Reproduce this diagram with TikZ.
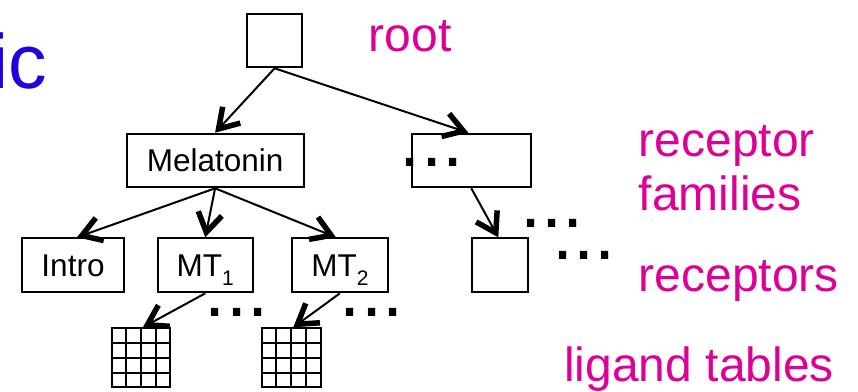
\documentclass[tikz,border=0pt]{standalone}
\usepackage{fontspec}
\setmainfont{Liberation Sans}
\usetikzlibrary{arrows.meta,calc}
\definecolor{titleblue}{RGB}{34,0,221}
\definecolor{labelmag}{RGB}{220,0,150}

\begin{document}
\begin{tikzpicture}[x=1pt,y=-1pt,
  box/.style={draw,line width=2pt,inner sep=0pt,
    font=\fontsize{31.5}{36}\selectfont,text height=22.6pt,text depth=0pt},
  gridbox/.style={draw,line width=2pt,inner sep=0pt,
    minimum width=58.5pt,minimum height=59pt},
  gridline/.style={line width=2pt},
  link/.style={line width=2pt,
    -{Straight Barb[length=19pt,width=24pt,line width=5.5pt]}},
  lbl/.style={anchor=base west,inner sep=0pt,text=labelmag,
    font=\fontsize{48}{53}\selectfont},
  ellip/.style={anchor=base west,inner sep=0pt,
    font=\fontsize{76}{80}\selectfont},
]
\useasboundingbox (0,0) rectangle (858,391);

% cut-off heading
\node[anchor=base west,inner sep=0pt,text=titleblue,
  font=\fontsize{77}{80}\selectfont] (title) at (-8.4,88) {ic};

% tree boxes
\node[box,minimum width=55.3pt,minimum height=53.6pt] (root) at (274.6,40.5) {};
\node[box,minimum width=176.8pt,minimum height=53.6pt] (mel) at (215.1,160.5) {Melatonin};
\node[box,minimum width=118.7pt,minimum height=53.6pt] (fam) at (471.3,160.5) {};
\node[box,minimum width=102pt,minimum height=54pt] (intro) at (73,265.3) {Intro};
\node[box,minimum width=95.3pt,minimum height=54pt] (mt1) at (205.3,265.3)
  {MT\raisebox{-8.5pt}{\fontsize{21}{23}\selectfont 1}};
\node[box,minimum width=96.8pt,minimum height=54pt] (mt2) at (339.9,265.3)
  {MT\raisebox{-8.5pt}{\fontsize{21}{23}\selectfont 2}};
\node[box,minimum width=55.7pt,minimum height=54pt] (rec) at (499.8,265.3) {};

% ligand tables: 4x4 grids
\node[gridbox] (g1) at (140.9,357.8) {};
\node[gridbox] (g2) at (291.3,357.8) {};
\foreach \g in {g1,g2}{
  \foreach \k in {1,2,3}{
    \draw[gridline] ($(\g.north west)!\k/4!(\g.north east)$) -- ($(\g.south west)!\k/4!(\g.south east)$);
    \draw[gridline] ($(\g.north west)!\k/4!(\g.south west)$) -- ($(\g.north east)!\k/4!(\g.south east)$);
  }
}

% connectors
\draw[link] (root.south) -- (mel.north);
\draw[link] (root.south) -- ([xshift=-3pt]fam.north);
\draw[link] (mel.south) -- ([xshift=4pt]intro.north);
\draw[link] (mel.south) -- (mt1.north);
\draw[link] (mel.south) -- ([xshift=-4pt]mt2.north);
\draw[link] (fam.south) -- ([xshift=-1.5pt]rec.north);
\draw[link] (mt1.south) -- ([xshift=2pt]g1.north);
\draw[link] (mt2.south) -- ([xshift=2pt]g2.north);

% ellipses
\node[ellip] (d1) at (399.7,166.5) {...};
\node[ellip] (d2) at (520.3,227.3) {...};
\node[ellip] (d3) at (552.3,259) {...};
\node[ellip] (d4) at (204.7,316.6) {...};
\node[ellip] (d5) at (339.7,316.6) {...};

% level labels
\node[lbl] (lroot) at (368.5,51.7) {root};
\node[lbl] (lfam1) at (638.5,156.7) {receptor};
\node[lbl] (lfam2) at (638.5,210) {families};
\node[lbl] (lrec) at (638.5,291.7) {receptors};
\node[lbl] (llig) at (564.1,381.7) {ligand tables};
\end{tikzpicture}
\end{document}
